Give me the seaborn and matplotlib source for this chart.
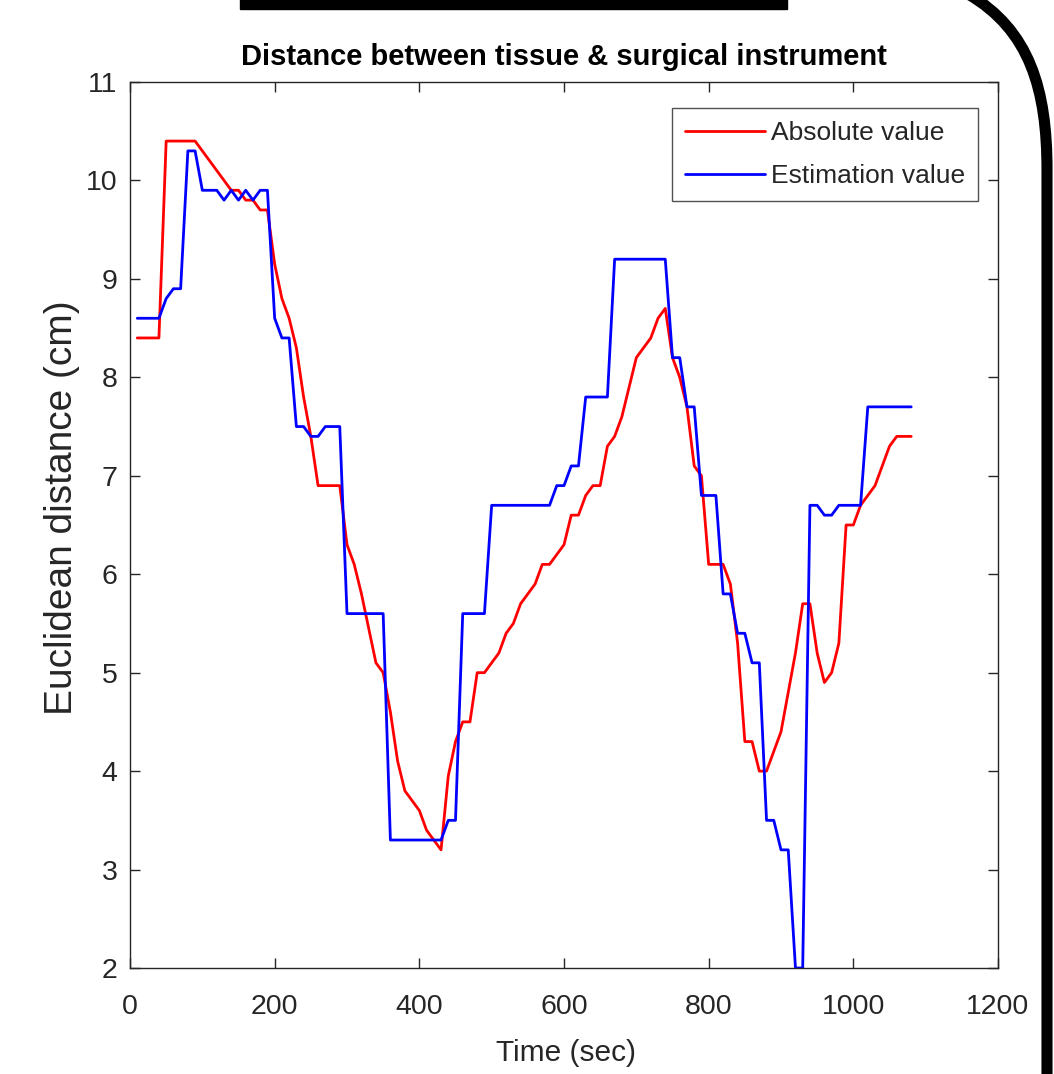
import numpy as np
import pandas as pd
import matplotlib
matplotlib.use("Agg")
import matplotlib.pyplot as plt
from matplotlib.path import Path
from matplotlib.patches import PathPatch, Rectangle
import seaborn as sns

# ---------------- data ----------------
time_sec = list(range(10, 1090, 10))

absolute_value = [
    8.4, 8.4, 8.4, 8.4, 10.4, 10.4, 10.4, 10.4, 10.4, 10.3,
    10.2, 10.1, 10.0, 9.9, 9.9, 9.8, 9.8, 9.7, 9.7, 9.15,
    8.8, 8.6, 8.3, 7.8, 7.4, 6.9, 6.9, 6.9, 6.9, 6.3,
    6.1, 5.8, 5.45, 5.1, 5.0, 4.6, 4.1, 3.8, 3.7, 3.6,
    3.4, 3.3, 3.2, 3.95, 4.3, 4.5, 4.5, 5.0, 5.0, 5.1,
    5.2, 5.4, 5.5, 5.7, 5.8, 5.9, 6.1, 6.1, 6.2, 6.3,
    6.6, 6.6, 6.8, 6.9, 6.9, 7.3, 7.4, 7.6, 7.9, 8.2,
    8.3, 8.4, 8.6, 8.7, 8.2, 8.0, 7.7, 7.1, 7.0, 6.1,
    6.1, 6.1, 5.9, 5.3, 4.3, 4.3, 4.0, 4.0, 4.2, 4.4,
    4.8, 5.2, 5.7, 5.7, 5.2, 4.9, 5.0, 5.3, 6.5, 6.5,
    6.7, 6.8, 6.9, 7.1, 7.3, 7.4, 7.4, 7.4,
]

estimation_value = [
    8.6, 8.6, 8.6, 8.6, 8.8, 8.9, 8.9, 10.3, 10.3, 9.9,
    9.9, 9.9, 9.8, 9.9, 9.8, 9.9, 9.8, 9.9, 9.9, 8.6,
    8.4, 8.4, 7.5, 7.5, 7.4, 7.4, 7.5, 7.5, 7.5, 5.6,
    5.6, 5.6, 5.6, 5.6, 5.6, 3.3, 3.3, 3.3, 3.3, 3.3,
    3.3, 3.3, 3.3, 3.5, 3.5, 5.6, 5.6, 5.6, 5.6, 6.7,
    6.7, 6.7, 6.7, 6.7, 6.7, 6.7, 6.7, 6.7, 6.9, 6.9,
    7.1, 7.1, 7.8, 7.8, 7.8, 7.8, 9.2, 9.2, 9.2, 9.2,
    9.2, 9.2, 9.2, 9.2, 8.2, 8.2, 7.7, 7.7, 6.8, 6.8,
    6.8, 5.8, 5.8, 5.4, 5.4, 5.1, 5.1, 3.5, 3.5, 3.2,
    3.2, 2.0, 2.0, 6.7, 6.7, 6.6, 6.6, 6.7, 6.7, 6.7,
    6.7, 7.7, 7.7, 7.7, 7.7, 7.7, 7.7, 7.7,
]

series_names = ["Absolute value", "Estimation value"]
series_colors = ["#ff0000", "#0000ff"]
x_ticks = [0, 200, 400, 600, 800, 1000, 1200]
y_ticks = [2, 3, 4, 5, 6, 7, 8, 9, 10, 11]

title_text = "Distance between tissue & surgical instrument"
x_label = "Time (sec)"
y_label = "Euclidean distance (cm)"

# ---------------- style ----------------
sns.set_theme(style="white")
plt.rcParams["font.family"] = ["Liberation Sans", "DejaVu Sans"]

df = pd.DataFrame({
    "time": time_sec * 2,
    "value": absolute_value + estimation_value,
    "series": [series_names[0]] * len(time_sec) + [series_names[1]] * len(time_sec),
})

W, H = 1054, 1074
fig = plt.figure(figsize=(W / 100, H / 100), dpi=100)
ax = fig.add_axes([130 / W, (H - 968) / H, 868 / W, 886 / H])

sns.lineplot(data=df, x="time", y="value", hue="series",
             palette=dict(zip(series_names, series_colors)),
             linewidth=2.0, ax=ax, legend=True, sort=False)

ax.set_xlim(0, 1200)
ax.set_ylim(2, 11)
ax.set_xticks(x_ticks)
ax.set_yticks(y_ticks)

gray = "#262626"
for s in ax.spines.values():
    s.set_visible(True)
    s.set_color(gray)
    s.set_linewidth(1.0)

ax.tick_params(axis="both", which="both", direction="in", length=7, width=1.0,
               color=gray, labelcolor=gray, labelsize=20.5,
               top=True, right=True, bottom=True, left=True)
ax.tick_params(axis="x", pad=19)
ax.tick_params(axis="y", pad=9)

ax.set_xlabel(x_label, fontsize=21.5, color=gray)
ax.set_ylabel(y_label, fontsize=28, color=gray)
ax.xaxis.set_label_coords(0.502, -0.080)
ax.yaxis.set_label_coords(-0.058, 0.519)
ax.set_title(title_text, fontsize=21, fontweight="bold", color="black", pad=12)

handles, labels = ax.get_legend_handles_labels()
leg = ax.legend(handles, labels, loc="upper right",
                bbox_to_anchor=((978 - 130) / 868, (968 - 108) / 886),
                borderaxespad=0, fontsize=19, frameon=True, fancybox=False,
                handlelength=3.0, handletextpad=0.23, labelspacing=0.72,
                borderpad=0.5, edgecolor=gray)
leg.get_frame().set_linewidth(1.0)
for t in leg.get_texts():
    t.set_color(gray)
for lh in leg.get_lines():
    lh.set_linewidth(2.0)

# ---------------- page decorations ----------------
def fx(px):
    return px / W

def fy(py):
    return 1 - py / H

fig.patches.append(Rectangle((fx(240), fy(9)), fx(787) - fx(240), fy(-2) - fy(9),
                             transform=fig.transFigure, color="black", zorder=10))
verts = [(fx(968), fy(-6)), (fx(1030), fy(30)), (fx(1047), fy(90)), (fx(1047), fy(170)),
         (fx(1047), fy(1080))]
codes = [Path.MOVETO, Path.CURVE4, Path.CURVE4, Path.CURVE4, Path.LINETO]
fig.patches.append(PathPatch(Path(verts, codes), transform=fig.transFigure,
                             fill=False, edgecolor="black", linewidth=8, zorder=10))

fig.savefig("out.png", dpi=100)
